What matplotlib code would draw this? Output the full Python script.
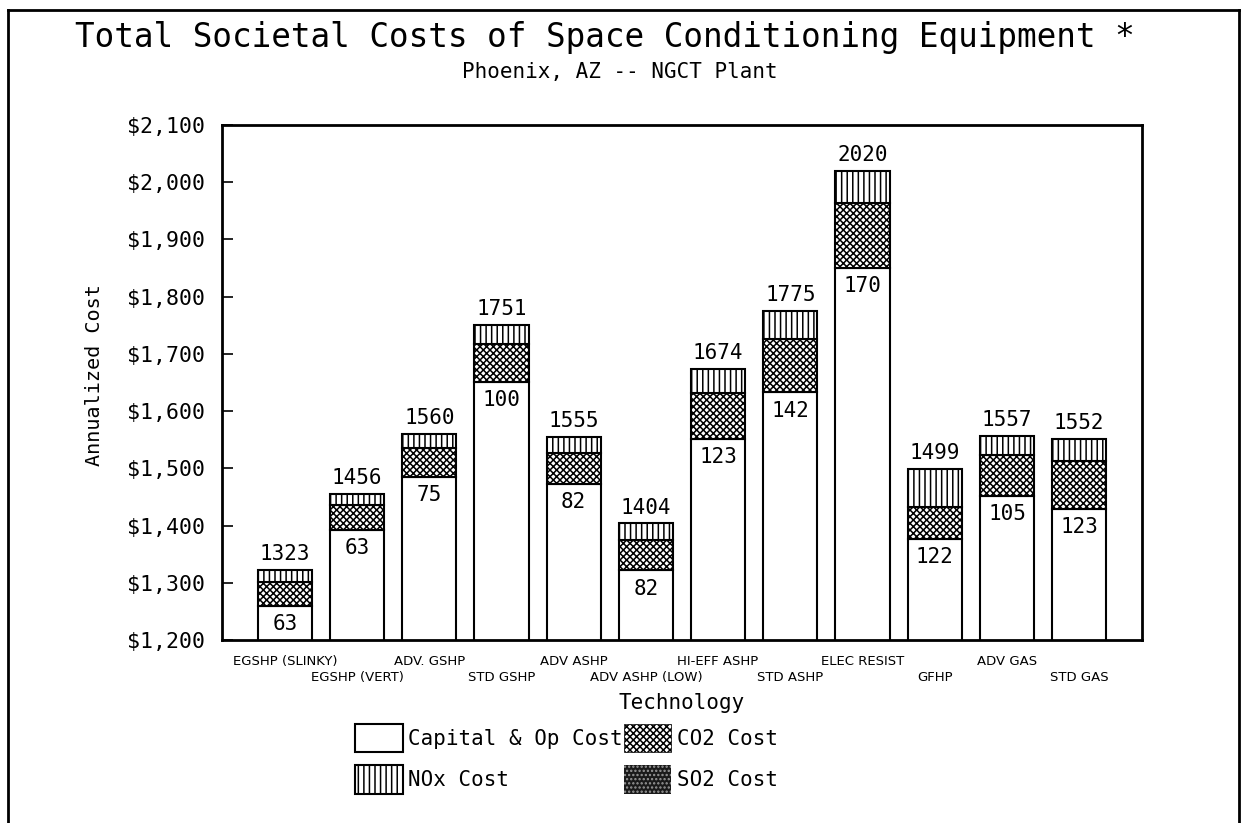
import numpy as np
import matplotlib
matplotlib.use("Agg")
import matplotlib.pyplot as plt
from matplotlib.lines import Line2D
from matplotlib.patches import Patch
from matplotlib.ticker import FuncFormatter, MultipleLocator, FixedLocator, FixedFormatter


techs = ["EGSHP (SLINKY)", "EGSHP (VERT)", "ADV. GSHP", "STD GSHP", "ADV ASHP",
         "ADV ASHP (LOW)", "HI-EFF ASHP", "STD ASHP", "ELEC RESIST", "GFHP",
         "ADV GAS", "STD GAS"]
capital = [1260, 1393, 1485, 1651, 1473, 1322, 1551, 1633, 1850, 1377, 1452, 1429]
so2 = [0, 0, 0, 0, 0, 0, 0, 0, 0, 0, 0, 0]
co2 = [41, 43, 50, 66, 53, 53, 81, 93, 113, 56, 72, 84]
nox = [22, 20, 25, 34, 29, 29, 42, 49, 57, 66, 33, 39]
totals = [1323, 1456, 1560, 1751, 1555, 1404, 1674, 1775, 2020, 1499, 1557, 1552]
env_costs = [63, 63, 75, 100, 82, 82, 123, 142, 170, 122, 105, 123]

MONO = "DejaVu Sans Mono"
W, H = 1246, 823

plt.rcParams["hatch.linewidth"] = 1.1
plt.rcParams["font.family"] = MONO

fig = plt.figure(figsize=(W / 100, H / 100), dpi=100)
ax = fig.add_axes([222 / W, 1 - 640 / H, (1142 - 222) / W, (640 - 125) / H])

x = np.arange(len(techs))
cap = np.array(capital, dtype=float)
s2 = np.array(so2, dtype=float)
c2 = np.array(co2, dtype=float)
nx = np.array(nox, dtype=float)

bw = 0.75
b_cap = ax.bar(x, cap, bw, color="white", edgecolor="black", lw=1.5)
b_so2 = ax.bar(x, s2, bw, bottom=cap, color="0.15", edgecolor="0.7", hatch="....", lw=0)
b_co2 = ax.bar(x, c2, bw, bottom=cap + s2, color="white", edgecolor="black",
               hatch="xxxxx", lw=1.5)
b_nox = ax.bar(x, nx, bw, bottom=cap + s2 + c2, color="white", edgecolor="black",
               hatch="|||", lw=1.5)

for xi, top, lab in zip(x, totals, totals):
    ax.annotate(str(lab), (xi, top), xytext=(0, 4), textcoords="offset points",
                ha="center", va="bottom", fontsize=15, family=MONO)
for xi, c, lab in zip(x, cap, env_costs):
    ax.annotate(str(lab), (xi, c), xytext=(0, -6), textcoords="offset points",
                ha="center", va="top", fontsize=15, family=MONO)

ax.set_xlim(-0.87, len(techs) - 1 + 0.87)
ax.set_ylim(1200, 2100)
ax.yaxis.set_major_locator(MultipleLocator(100))
ax.yaxis.set_major_formatter(FuncFormatter(lambda v, p: f"${v:,.0f}"))
ax.tick_params(axis="y", direction="in", length=8, width=1.2, labelsize=15.5, pad=12)

# alternate the category labels on two rows
ax.xaxis.set_major_locator(FixedLocator(x[0::2]))
ax.xaxis.set_major_formatter(FixedFormatter(techs[0::2]))
ax.xaxis.set_minor_locator(FixedLocator(x[1::2]))
ax.xaxis.set_minor_formatter(FixedFormatter(techs[1::2]))
ax.tick_params(axis="x", which="major", length=0, pad=11)
ax.tick_params(axis="x", which="minor", length=0, pad=22.5)
for lab in ax.get_xticklabels(which="both"):
    lab.set_family("DejaVu Sans")
    lab.set_fontsize(9.5)
for s in ax.spines.values():
    s.set_linewidth(2)

fig.text(95 / W, 1 - 375 / H, "Annualized Cost", rotation=90, ha="center",
         va="center", fontsize=14.5)
fig.text(682 / W, 1 - 703 / H, "Technology", ha="center", va="center", fontsize=15)
fig.text(605 / W, 1 - 37 / H, "Total Societal Costs of Space Conditioning Equipment *",
         ha="center", va="center", fontsize=23.5)
fig.text(620 / W, 1 - 72 / H, "Phoenix, AZ -- NGCT Plant", ha="center", va="center",
         fontsize=15)

handles = [Patch(facecolor="white", edgecolor="black", lw=1.5),
           Patch(facecolor="white", edgecolor="black", hatch="|||", lw=1.5),
           Patch(facecolor="white", edgecolor="black", hatch="xxxxx", lw=0.5),
           Patch(facecolor="0.1", edgecolor="0.6", hatch="....", lw=0)]
labels = ["Capital & Op Cost", "NOx Cost", "CO2 Cost", "SO2 Cost"]
fig.legend(handles, labels, loc="upper left", bbox_to_anchor=(336 / W, 1 - 705 / H),
           ncol=2, frameon=False, fontsize=15, handlelength=2.3, handleheight=1.7,
           handletextpad=0.25, columnspacing=0.05, labelspacing=0.65)

# outer frame
for xs, ys in [((8, 8), (10, H)), ((8, 1239), (10, 10)), ((1239, 1239), (10, H))]:
    fig.add_artist(Line2D([v / W for v in xs], [1 - v / H for v in ys],
                          color="black", lw=2))

fig.savefig("out.png", dpi=100)
